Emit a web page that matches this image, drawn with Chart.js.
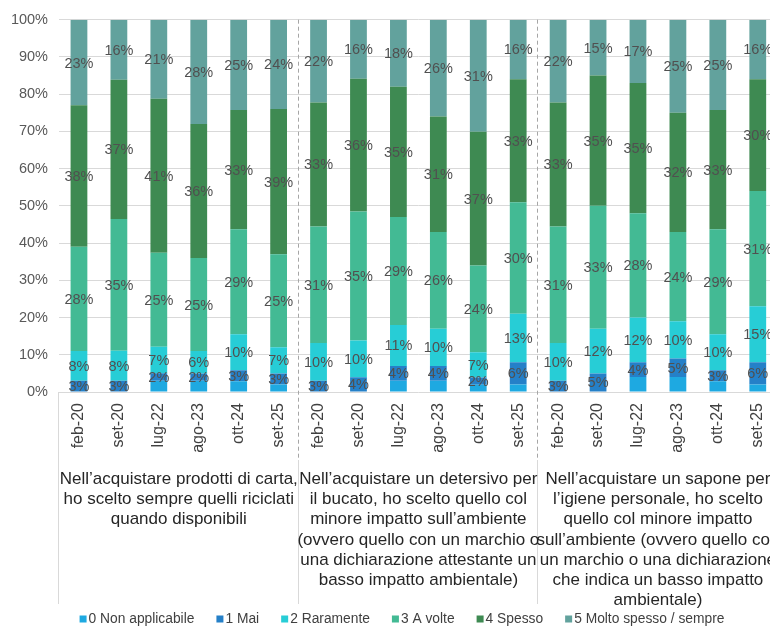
<!DOCTYPE html>
<html><head><meta charset="utf-8">
<script src="https://cdn.jsdelivr.net/npm/chart.js@4.4.1/dist/chart.umd.min.js"></script>
<style>
html,body{margin:0;padding:0;overflow:hidden;background:#fff;width:770px;height:628px}
#wrap{position:relative;width:780px;height:628px}
</style></head>
<body><div id="wrap"><canvas id="c" width="780" height="628"></canvas></div>
<script>
// ---- data ----
const dates = ['feb-20','set-20','lug-22','ago-23','ott-24','set-25'];
const groupLabels = [
  ["Nell’acquistare prodotti di carta,","ho scelto sempre quelli riciclati","quando disponibili"],
  ["Nell’acquistare un detersivo per","il bucato, ho scelto quello col","minore impatto sull’ambiente","(ovvero quello con un marchio o","una dichiarazione attestante un","basso impatto ambientale)"],
  ["Nell’acquistare un sapone per","l’igiene personale, ho scelto","quello col minore impatto","sull’ambiente (ovvero quello con","un marchio o una dichiarazione","che indica un basso impatto","ambientale)"]
];
const seriesNames = ['0 Non applicabile','1 Mai','2 Raramente','3 A volte','4 Spesso','5 Molto spesso / sempre'];
const nonApplicabile = [0,0,3,3,3,2,  0,0,3,3,2,2,  0,0,4,4,3,2];
const mai            = [3,3,2,2,3,3,  3,4,4,4,2,6,  3,5,4,5,3,6];
const raramente      = [8,8,7,6,10,7, 10,10,11,10,7,13, 10,12,12,10,10,15];
const aVolte         = [28,35,25,25,29,25, 31,35,29,26,24,30, 31,33,28,24,29,31];
const spesso         = [38,37,41,36,33,39, 33,36,35,31,37,33, 33,35,35,32,33,30];
const moltoSpesso    = [23,16,21,28,25,24, 22,16,18,26,31,16, 22,15,17,25,25,16];
const yTickValues    = [0,10,20,30,40,50,60,70,80,90,100];

// ---- styles ----
const colors = ['#1EA9E1','#2580C8','#27CDD6','#43BA94','#3E8A52','#62A29D'];
const FONT = "'Liberation Sans', Arial, sans-serif";

const series = [nonApplicabile, mai, raramente, aVolte, spesso, moltoSpesso];
const labels = groupLabels.flatMap(() => dates);
const totals = labels.map((_, i) => series.reduce((s, a) => s + a[i], 0));

const datasets = series.map((arr, k) => ({
  label: seriesNames[k],
  raw: arr,
  showLabels: k > 0,
  data: arr.map((v, i) => v / totals[i] * 100),
  backgroundColor: colors[k],
  borderWidth: 0,
  barPercentage: 0.42,
  categoryPercentage: 1.0
}));

const decor = {
  id: 'decor',
  afterDatasetsDraw(chart) {
    const ctx = chart.ctx;
    ctx.save();
    ctx.font = '14.5px ' + FONT;
    ctx.fillStyle = '#505050';
    ctx.textAlign = 'center';
    ctx.textBaseline = 'middle';
    chart.data.datasets.forEach((ds, di) => {
      if (!ds.showLabels) return;
      chart.getDatasetMeta(di).data.forEach((el, i) => {
        const v = ds.raw[i];
        if (!v) return;
        const p = el.getProps(['x', 'y', 'base'], true);
        ctx.fillText(v + '%', p.x, (p.y + p.base) / 2 + 1);
      });
    });
    ctx.restore();
  },
  afterDraw(chart) {
    const ctx = chart.ctx, xs = chart.scales.x, area = chart.chartArea;
    const step = xs.getPixelForValue(1) - xs.getPixelForValue(0);
    const n = dates.length;
    ctx.save();
    ctx.strokeStyle = '#D9D9D9';
    ctx.lineWidth = 1;
    ctx.beginPath();
    ctx.moveTo(area.left - 0.5, area.bottom);
    ctx.lineTo(area.left - 0.5, 604);
    ctx.stroke();
    for (let g = 1; g < groupLabels.length; g++) {
      const x = Math.round(xs.getPixelForValue(g * n) - step / 2) - 0.5;
      ctx.strokeStyle = '#A6A6A6';
      ctx.setLineDash([4, 3]);
      ctx.beginPath();
      ctx.moveTo(x, area.top);
      ctx.lineTo(x, 460);
      ctx.stroke();
      ctx.setLineDash([]);
      ctx.strokeStyle = '#D9D9D9';
      ctx.beginPath();
      ctx.moveTo(x, 460);
      ctx.lineTo(x, 604);
      ctx.stroke();
    }
    // group labels
    ctx.font = '17px ' + FONT;
    ctx.fillStyle = '#262626';
    ctx.textAlign = 'center';
    ctx.textBaseline = 'middle';
    groupLabels.forEach((lines, g) => {
      const cx = (xs.getPixelForValue(g * n) + xs.getPixelForValue(g * n + n - 1)) / 2;
      lines.forEach((t, k) => ctx.fillText(t, cx, 479 + k * 20.3));
    });
    // legend
    ctx.font = '13.8px ' + FONT;
    ctx.textAlign = 'left';
    const box = 7, gap = 2, spacing = 22;
    const widths = seriesNames.map(s => box + gap + ctx.measureText(s).width);
    const total = widths.reduce((a, b) => a + b, 0) + spacing * (widths.length - 1);
    let x = 402 - total / 2;
    const ly = 619;
    seriesNames.forEach((s, k) => {
      ctx.fillStyle = colors[k];
      ctx.fillRect(x, ly - 3.5, box, box);
      ctx.fillStyle = '#404040';
      ctx.fillText(s, x + box + gap, ly);
      x += widths[k] + spacing;
    });
    ctx.restore();
  }
};

new Chart(document.getElementById('c'), {
  type: 'bar',
  data: { labels, datasets },
  plugins: [decor],
  options: {
    responsive: false,
    animation: false,
    devicePixelRatio: 1,
    layout: { padding: { top: 18, right: 1, left: 0, bottom: 0 } },
    plugins: { legend: { display: false }, tooltip: { enabled: false } },
    scales: {
      x: {
        stacked: true,
        grid: { display: false },
        border: { display: false },
        ticks: { autoSkip: false, minRotation: 90, maxRotation: 90, padding: 3,
                 color: '#404040', font: { family: FONT, size: 16 } },
        afterFit(s) { s.height = 236; }
      },
      y: {
        stacked: true, min: 0, max: 100,
        grid: { color: '#D9D9D9', drawTicks: false },
        border: { display: false },
        afterBuildTicks(s) { s.ticks = yTickValues.map(v => ({ value: v })); },
        ticks: { padding: 11, color: '#595959', font: { family: FONT, size: 14.5 },
                 callback: v => v + '%' },
        afterFit(s) { s.width = 59; }
      }
    }
  }
});
</script>
</body></html>
